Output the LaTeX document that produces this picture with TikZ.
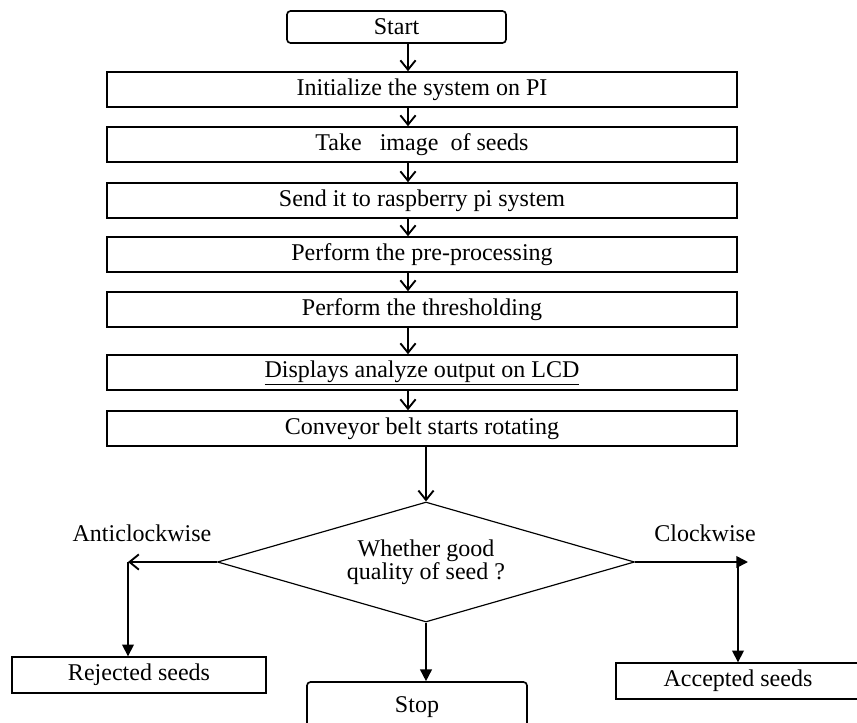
\documentclass[tikz,border=0pt]{standalone}
\usepackage{fontspec}
\setmainfont{Liberation Serif}
\usetikzlibrary{arrows.meta,shapes.geometric}

\begin{document}
\begin{tikzpicture}[
	x=0.03cm, y=-0.03cm,
	every node/.style={font=\fontsize{20.5}{18}\selectfont},
  > = Latex,
  stepbox/.style = {draw,line width=1.4pt,minimum width=18.9cm,minimum height=1.05cm,inner sep=0pt},
  endbox/.style = {draw,line width=1.4pt,rounded corners=3pt,inner sep=0pt},
  seedbox/.style = {draw,line width=1.2pt,minimum height=1.08cm,inner sep=0pt},
  down/.style = {line width=1.6pt,-{Straight Barb[length=8pt,width=13pt,line width=1.6pt]}},
  fill arrow/.style = {line width=1.4pt,-{Triangle[length=10pt,width=10pt]}}
  ]
	\useasboundingbox (0,0) rectangle (857,723);

	% column of steps
	\node[endbox,minimum width=6.57cm,minimum height=0.96cm] (start) at (396.5,27) {Start};
	\node[stepbox] (init) at (422,89.5) {Initialize the system on PI};
	\node[stepbox] (take) at (422,144.5) {Take\ \ \ image\ \ of seeds};
	\node[stepbox] (send) at (422,200.5) {Send it to raspberry pi system};
	\node[stepbox] (pre) at (422,254.5) {Perform the pre-processing};
	\node[stepbox] (thr) at (422,309.5) {Perform the thresholding};
	\node[stepbox] (lcd) at (422,372.5) {\underline{Displays analyze output on LCD}};
	\node[stepbox] (belt) at (422,428.5) {Conveyor belt starts rotating};

	\coordinate (col) at (408,0);
	\foreach \a/\b in {start/init,init/take,take/send,send/pre,pre/thr,thr/lcd,lcd/belt}
		\draw[down] (\a.south -| col) -- (\b.north -| col);

	% decision
	\node[draw,diamond,aspect=3.5,minimum width=12.51cm,minimum height=3.6cm,inner sep=0pt,
		line width=1pt,align=center] (dec) at (426,562) {Whether good\\quality of seed ?};
  	\draw[down] (dec.north |- belt.south) -- (dec.north);

	\node (acwlabel) at (142,533) {Anticlockwise};
	\node (cwlabel) at (705,533) {Clockwise};

	\node[seedbox,minimum width=7.62cm] (rej) at (139,675) {Rejected seeds};
	\node[endbox,minimum width=6.6cm,minimum height=1.5cm] (stop) at (417,707) {Stop};
	\node[seedbox,minimum width=7.32cm] (acc) at (738,681) {Accepted seeds};

	\coordinate (acw) at (128,562);
	\coordinate (cwend) at (748,562);
	\coordinate (cw) at (738,562);

  	\draw[down] (dec.west) -- (acw);
  	\draw[fill arrow] (acw) -- (acw |- rej.north);
  	\draw[fill arrow] (dec.south) -- (dec.south |- stop.north);
  	\draw[fill arrow] (dec.east) -- (cwend);
  	\draw[fill arrow] (cw) -- (cw |- acc.north);

\end{tikzpicture}
\end{document}
